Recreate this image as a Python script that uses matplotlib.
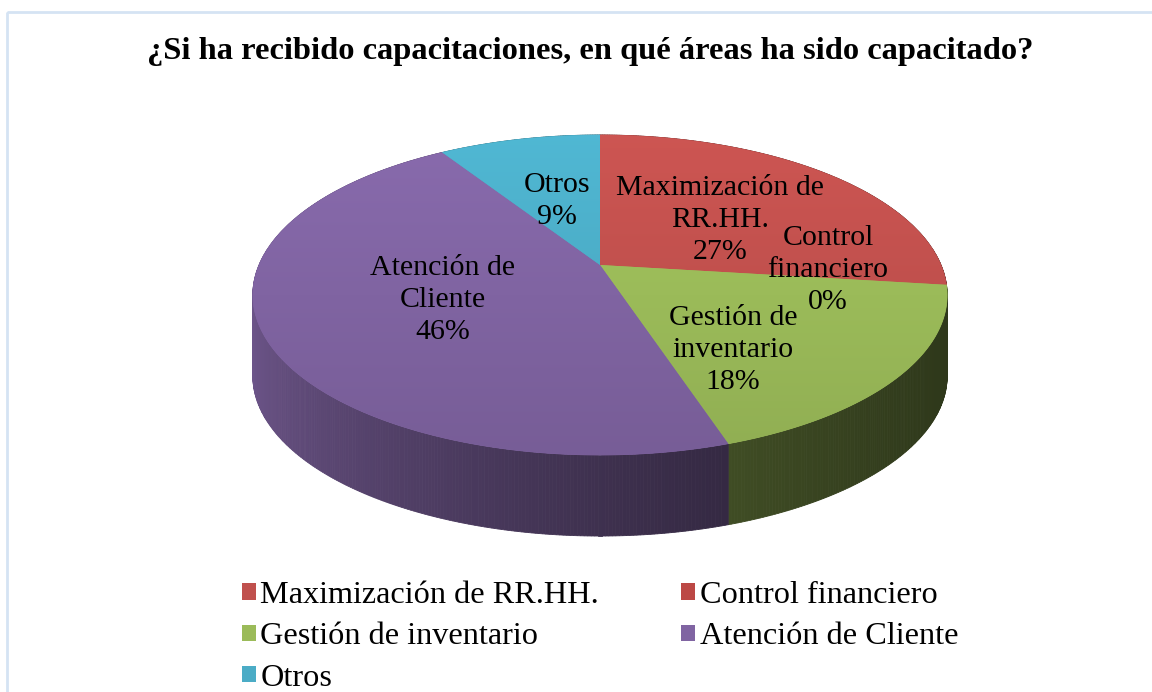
import numpy as np
import matplotlib
matplotlib.use("Agg")
import matplotlib.pyplot as plt
from matplotlib.patches import Polygon, Patch, Rectangle
from matplotlib.colors import LinearSegmentedColormap, to_rgb

# data
categories = ["Maximización de RR.HH.", "Control financiero", "Gestión de inventario",
              "Atención de Cliente", "Otros"]
values = [27, 0, 18, 46, 9]
colors = ["#C0504D", "#BC4845", "#9BBB59", "#8064A2", "#4BACC6"]
pie_labels = ["Maximización de\nRR.HH.\n27%", "Control\nfinanciero\n0%",
              "Gestión de\ninventario\n18%", "Atención de\nCliente\n46%", "Otros\n9%"]
title = "¿Si ha recibido capacitaciones, en qué áreas ha sido capacitado?"

# layout (pixels)
cx, cy = 600, 265      # projected pie centre
A, B = 341, 154.4      # projection scales
k = 0.1875             # perspective strength
depth = 81
label_xy = [(720, 220), (828, 270), (733, 350), (443, 300), (557, 201)]

plt.rcParams['font.family'] = ['Liberation Serif', 'DejaVu Serif']

fig = plt.figure(figsize=(11.52, 6.92), dpi=100)
ax = fig.add_axes([0, 0, 1, 1])


def proj(r, ang):
    u = r * np.sin(ang)
    v = -r * np.cos(ang)
    w = 1 - k * v
    return cx + A * u / w, cy + B * v / w


def shade(c, f):
    return tuple(min(1, max(0, x * f)) for x in to_rgb(c))


total = float(sum(values))
starts = np.cumsum([0] + values[:-1]) / total * 2 * np.pi
ends = np.cumsum(values) / total * 2 * np.pi

xl, _ = proj(1, 1.5 * np.pi)
xr, _ = proj(1, 0.5 * np.pi)
xl, xr = xl - 6, xr + 6

# sides
for s, e, c in zip(starts, ends, colors):
    if e - s <= 0:
        continue
    angs = np.linspace(s, e, max(int((e - s) * 120), 2))
    for a1, a2 in zip(angs[:-1], angs[1:]):
        x1, y1 = proj(1, a1)
        x2, y2 = proj(1, a2)
        t = ((x1 + x2) / 2 - xl) / (xr - xl)
        f = 0.85 - 0.55 * max(t, 0) ** 0.6
        quad = Polygon([(x1, y1), (x2, y2), (x2, y2 + depth), (x1, y1 + depth)],
                       closed=True, facecolor=shade(c, f), edgecolor=shade(c, f),
                       linewidth=0.6, zorder=1)
        ax.add_patch(quad)

# top faces
for s, e, c in zip(starts, ends, colors):
    if e - s <= 0:
        continue
    angs = np.linspace(s, e, max(int((e - s) * 80), 2))
    pts = [(cx, cy)] + [proj(1, a) for a in angs]
    poly = Polygon(pts, closed=True, facecolor=c, edgecolor=c, linewidth=0.5, zorder=2)
    ax.add_patch(poly)
    cmap = LinearSegmentedColormap.from_list("g", [shade(c, 1.07), shade(c, 0.93)])
    grad = np.linspace(0, 1, 256).reshape(-1, 1)
    im = ax.imshow(grad, cmap=cmap, extent=[xl, xr, 460, 130], aspect='auto',
                   zorder=2.5, interpolation='bilinear')
    im.set_clip_path(poly)

for (lx, ly), txt in zip(label_xy, pie_labels):
    ax.text(lx, ly, txt, ha='center', va='center', fontsize=21.5, linespacing=1.28,
            color='black', zorder=4)

ax.text(590, 51, title, ha='center', va='center', fontsize=23.4, fontweight='bold',
        color='black')

# chart border
ax.add_patch(Rectangle((7, 12), 1200, 720, fill=False, edgecolor='#D5E3F3', linewidth=2))

order = [0, 2, 4, 1, 3]
handles = [Patch(facecolor=colors[i], edgecolor='none', label=categories[i]) for i in order]
ax.legend(handles=handles, ncol=2, loc='upper left', bbox_to_anchor=(226, 565),
          bbox_transform=ax.transData, frameon=False, fontsize=23.2, borderpad=0,
          handlelength=0.42, handleheight=0.42, handletextpad=0.15,
          labelspacing=0.38, columnspacing=2.55)

ax.set_xlim(0, 1152)
ax.set_ylim(692, 0)
ax.axis('off')

fig.savefig("out.png", dpi=100)
